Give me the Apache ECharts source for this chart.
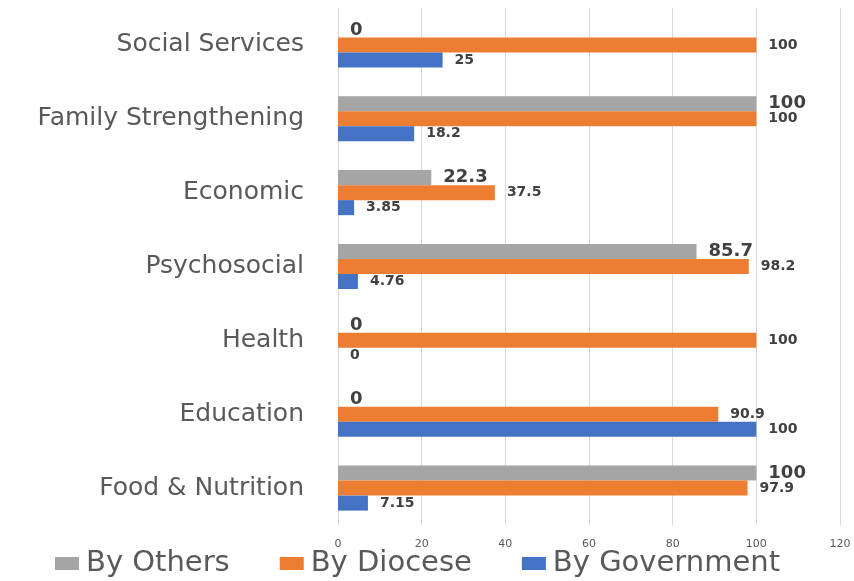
<!DOCTYPE html>
<html><head><meta charset="utf-8">
<script src="https://cdn.jsdelivr.net/npm/echarts@6/dist/echarts.min.js"></script>
<style>html,body{margin:0;padding:0;background:#fff}#c{width:854px;height:581px}</style>
</head><body><div id="c"></div>
<script>
const categories = ['Food & Nutrition','Education','Health','Psychosocial','Economic','Family Strengthening','Social Services'];
const byOthers = [100, 0, 0, 85.7, 22.3, 100, 0];
const byDiocese = [97.9, 90.9, 100, 98.2, 37.5, 100, 100];
const byGovernment = [7.15, 100, 0, 4.76, 3.85, 18.2, 25];
const xTicks = [0, 20, 40, 60, 80, 100, 120];

const chart = echarts.init(document.getElementById('c'));
function lbl(size){
  return {show:true, position:'right', distance:12, color:'#404040', fontFamily:'DejaVu Sans', fontWeight:'bold', fontSize:size};
}
chart.setOption({
  animation:false,
  grid:{left:338, right:14, top:8, bottom:56, containLabel:false},
  legend:{
    bottom:-2, left:50, itemWidth:24, itemHeight:13, itemGap:50,
    icon:'rect',
    textStyle:{fontSize:29, color:'#595959', fontFamily:'DejaVu Sans', padding:[0,0,0,2]},
    data:['By Others','By Diocese','By Government']
  },
  xAxis:{
    type:'value', min:xTicks[0], max:xTicks[xTicks.length-1], interval:20,
    axisLine:{show:false}, axisTick:{show:false},
    splitLine:{lineStyle:{color:'#d9d9d9'}},
    axisLabel:{color:'#595959', fontSize:11, fontFamily:'DejaVu Sans', margin:14}
  },
  yAxis:{
    type:'category', data:categories,
    axisLine:{show:false}, axisTick:{show:false},
    axisLabel:{color:'#595959', fontSize:25, fontFamily:'DejaVu Sans', margin:34}
  },
  series:[
    {name:'By Others', type:'bar', data:byOthers, itemStyle:{color:'#A5A5A5'}, barGap:'0%', barCategoryGap:'39%', label:lbl(18)},
    {name:'By Diocese', type:'bar', data:byDiocese, itemStyle:{color:'#ED7D31'}, barGap:'0%', barCategoryGap:'39%', label:lbl(14)},
    {name:'By Government', type:'bar', data:byGovernment, itemStyle:{color:'#4472C4'}, barGap:'0%', barCategoryGap:'39%', label:lbl(14)}
  ]
});
</script></body></html>
